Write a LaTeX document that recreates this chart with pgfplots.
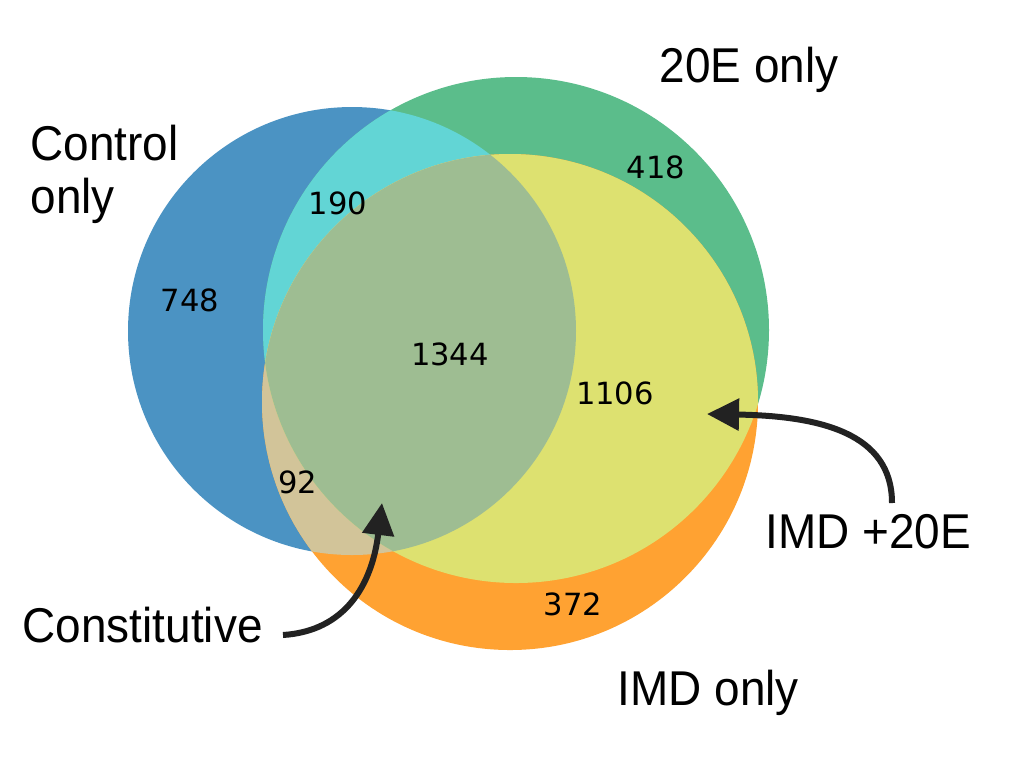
\documentclass[border=0pt]{standalone}
\usepackage{pgfplots}
\pgfplotsset{compat=1.18}
\usepackage{fontspec}
\setmainfont{Liberation Sans}[FakeStretch=0.94]
\newfontfamily\numfont{DejaVu Sans}
\usetikzlibrary{arrows.meta}

\definecolor{cblue}{HTML}{4B93C3}
\definecolor{cgreen}{HTML}{5BBD8B}
\definecolor{corange}{HTML}{FFA232}
\definecolor{ccyan}{HTML}{62D5D5}
\definecolor{ctan}{HTML}{D2C499}
\definecolor{cyellow}{HTML}{DDE170}
\definecolor{cmid}{HTML}{9EBD92}
\definecolor{carrow}{HTML}{222222}

% circles: centre x, centre y, radius (pixel-like axis units, y up)
\def\Ctrl{(axis cs:352,432) circle[radius=224]}
\def\Ecd{(axis cs:516,433) circle[radius=253]}
\def\Imd{(axis cs:510,361) circle[radius=248]}

\begin{document}
\begin{tikzpicture}
\begin{axis}[
  scale only axis,
  width=10.1cm, height=7.63cm,
  xmin=0, xmax=1010, ymin=0, ymax=763,
  hide axis, clip=false
]
\path (axis cs:0,0) rectangle (axis cs:1010,763);

% single sets
\fill[cblue] \Ctrl;
\fill[cgreen] \Ecd;
\fill[corange] \Imd;
% pairwise overlaps
\begin{scope}\clip \Ctrl; \fill[ccyan] \Ecd; \fill[ctan] \Imd; \end{scope}
\begin{scope}\clip \Ecd; \fill[cyellow] \Imd; \end{scope}
% all three
\begin{scope}\clip \Ctrl; \clip \Ecd; \fill[cmid] \Imd; \end{scope}

% counts
\begin{scope}[every node/.style={font=\numfont\fontsize{8.7}{10}\selectfont}]
\node at (axis cs:190,463) {748};
\node at (axis cs:338,560) {190};
\node at (axis cs:450,409) {1344};
\node at (axis cs:615,370) {1106};
\node at (axis cs:298,281) {92};
\node at (axis cs:656,596) {418};
\node at (axis cs:573,159) {372};
\end{scope}

% labels
\begin{scope}[every node/.style={font=\fontsize{13.9}{15}\selectfont, anchor=base west, inner sep=0pt}]
\node at (axis cs:30,603) {Control};
\node at (axis cs:30,550) {only};
\node at (axis cs:659,681) {20E only};
\node at (axis cs:765,215) {IMD +20E};
\node at (axis cs:617,58) {IMD only};
\node at (axis cs:22,121) {Constitutive};
\end{scope}

% arrows
\draw[carrow, line width=0.6mm, -{Triangle[length=3.2mm,width=3.1mm]}]
  (axis cs:892,260) .. controls (axis cs:892,330) and (axis cs:820,347) .. (axis cs:707,349);
\draw[carrow, line width=0.6mm, -{Triangle[length=3.2mm,width=3.1mm]}]
  (axis cs:283,128) .. controls (axis cs:345,132) and (axis cs:372,178) .. (axis cs:382,260);
\end{axis}
\end{tikzpicture}
\end{document}
